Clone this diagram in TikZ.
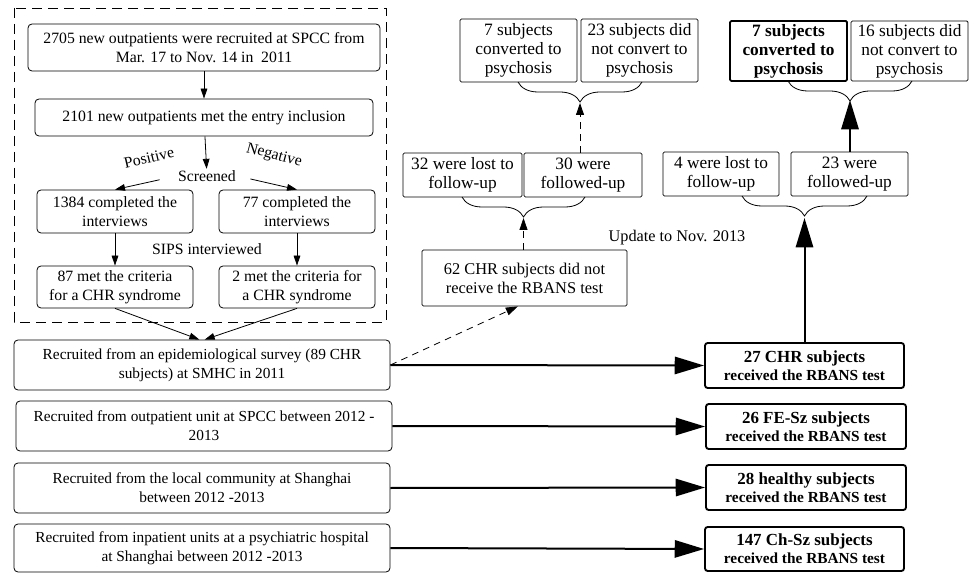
\documentclass[tikz,border=0pt]{standalone}
\usepackage{fontspec}
\setmainfont{Liberation Serif}
\usetikzlibrary{arrows.meta,decorations.pathreplacing}

\tikzset{
  lbox/.style={draw,rounded corners=3pt,line width=0.6pt,align=center,inner sep=0pt,font=\fontsize{11.8}{14.3}\selectfont},
  rbox/.style={lbox,font=\fontsize{11.5}{14}\selectfont},
  mbox/.style={draw,rounded corners=1pt,line width=0.6pt,align=center,inner sep=0pt,font=\fontsize{13}{14.3}\selectfont},
  tbox/.style={draw,rounded corners=2pt,line width=1.4pt,align=center,inner sep=0pt,font=\bfseries\fontsize{11.5}{13.3}\selectfont},
  lbl/.style={font=\fontsize{11.8}{14}\selectfont},
  arr/.style={-{Triangle[length=7.5pt,width=5pt]},line width=0.6pt},
  bigarr/.style={-{Triangle[length=22pt,width=13pt]},line width=1.5pt},
  dasharr/.style={-{Triangle[length=9pt,width=6pt]},dash pattern=on 5pt off 4pt,line width=0.6pt},
  curly/.style={decorate,decoration={brace,mirror,amplitude=15pt},line width=0.6pt}
}

\begin{document}
\begin{tikzpicture}[x=0.75pt,y=-0.75pt]
\useasboundingbox (0,0) rectangle (974,573);

% screening at SPCC
\draw[line width=0.7pt,dash pattern=on 7.5pt off 4.5pt] (14,8) rectangle (386,322);
\node (b2705) at (204,47.5) [lbox,minimum width=264pt,minimum height=35.25pt]{2705 new outpatients were recruited at SPCC from\\Mar. 17 to Nov. 14 in\ \ 2011};
\node (b2101) at (204,117.5) [lbox,minimum width=253.5pt,minimum height=27.75pt]{2101 new outpatients met the entry inclusion};
\node (scr) at (207,176) [lbl,inner sep=1pt]{Screened};
\node (pos) at (149,158) [lbl,inner sep=0pt,rotate=13]{Positive};
\node (neg) at (274,156) [lbl,inner sep=0pt,rotate=-15]{Negative};
\node (b1384) at (115,211.5) [lbox,minimum width=117pt,minimum height=32.25pt]{1384 completed the\\interviews};
\node (b77) at (297,211.5) [lbox,minimum width=117pt,minimum height=32.25pt]{77 completed the\\interviews};
\node (sips) at (207,249) [lbl]{SIPS interviewed};
\node (b87) at (115,287) [lbox,minimum width=117pt,minimum height=31.5pt]{87 met the criteria\\for a CHR syndrome};
\node (b2) at (297,287) [lbox,minimum width=117pt,minimum height=31.5pt]{2 met the criteria for\\a CHR syndrome};
\draw[arr] (b2705) -- (b2101);
\draw[arr] (b2101) -- (scr);
\draw[arr,shorten <=13pt] (scr.west) -- (b1384.north);
\draw[arr,shorten <=10pt] (scr.east) -- (b77.north);
\draw[arr] (b1384) -- (b87);
\draw[arr] (b77) -- (b2);

% recruiting sources
\node (rA) at (202,365) [rbox,minimum width=282pt,minimum height=37.5pt]{Recruited from an epidemiological survey (89 CHR\\subjects) at SMHC in 2011};
\node (rB) at (204,426) [rbox,minimum width=282pt,minimum height=37.5pt]{Recruited from outpatient unit at SPCC between 2012 -\\2013};
\node (rC) at (202,488) [rbox,minimum width=282pt,minimum height=37.5pt]{Recruited from the local community at Shanghai\\between 2012 -2013};
\node (rD) at (202,548) [rbox,minimum width=282pt,minimum height=36pt]{Recruited from inpatient units at a psychiatric hospital\\at Shanghai between 2012 -2013};
\draw[arr] (b87.south) -- ([xshift=-2pt]rA.north);
\draw[arr] (b2.south) -- ([xshift=2pt]rA.north);

% subjects who received the RBANS test
\node (s27) at (804.5,365.5) [tbox,minimum width=149.25pt,minimum height=33.75pt]{{\fontsize{12.7}{13.3}\selectfont 27 CHR subjects}\\received the RBANS test};
\node (s26) at (806,426.5) [tbox,minimum width=150pt,minimum height=33.75pt]{{\fontsize{12.7}{13.3}\selectfont 26 FE-Sz subjects}\\received the RBANS test};
\node (s28) at (806,487.5) [tbox,minimum width=150pt,minimum height=33.75pt]{{\fontsize{12.7}{13.3}\selectfont 28 healthy subjects}\\received the RBANS test};
\node (s147) at (804.5,549) [tbox,minimum width=149.25pt,minimum height=33pt]{{\fontsize{12.7}{13.3}\selectfont 147 Ch-Sz subjects}\\received the RBANS test};
\draw[bigarr] (rA.east) -- (s27.west);
\draw[bigarr] (rB.east) -- (s26.west);
\draw[bigarr] (rC.east) -- (s28.west);
\draw[bigarr] (rD.east) -- (s147.west);

% follow-up without RBANS
\node (m62) at (524.5,278) [mbox,minimum width=153.75pt,minimum height=42pt,font=\fontsize{12.3}{14.3}\selectfont]{62 CHR subjects did not\\receive the RBANS test};
\node (m32) at (462.5,175) [mbox,minimum width=89.25pt,minimum height=33pt]{32 were lost to\\follow-up};
\node (m30) at (583,175) [mbox,minimum width=88.5pt,minimum height=33pt]{30 were\\followed-up};
\node (m7) at (518.5,50.5) [mbox,minimum width=87.75pt,minimum height=47.25pt]{7 subjects\\converted to\\psychosis};
\node (m23) at (639.5,50.5) [mbox,minimum width=87.75pt,minimum height=47.25pt]{23 subjects did\\not convert to\\psychosis};
\draw[curly] (462,197) -- (585,197);
\coordinate (tipA) at (523.5,218);
\draw[curly] (518,82) -- (642,82);
\coordinate (tipB) at (580,103);
\draw[dasharr] (rA.east) -- ([xshift=-5pt]m62.south);
\draw[dasharr] (tipA |- m62.north) -- (tipA);
\draw[dasharr] (tipB |- m30.north) -- (tipB);

\node (upd) at (677,238) [lbl,font=\fontsize{12.2}{14}\selectfont]{Update to Nov. 2013};

% follow-up with RBANS
\node (r4) at (721,174) [mbox,minimum width=87pt,minimum height=33pt]{4 were lost to\\follow-up};
\node (r23) at (849.5,174) [mbox,minimum width=87.75pt,minimum height=33pt]{23 were\\followed-up};
\node (r7) at (788.5,51) [mbox,line width=1.4pt,minimum width=87.75pt,minimum height=45pt,font=\bfseries\fontsize{13}{14.3}\selectfont]{7 subjects\\converted to\\psychosis};
\node (r16) at (909.5,51) [mbox,minimum width=87.75pt,minimum height=45pt]{16 subjects did\\not convert to\\psychosis};
\draw[curly] (742,196) -- (867,196);
\coordinate (tipD) at (804.5,218);
\draw[curly] (788,81) -- (912,81);
\coordinate (tipC) at (850,100);
\draw[bigarr] (tipD |- s27.north) -- (tipD);
\draw[bigarr] (tipC |- r23.north) -- (tipC);
\end{tikzpicture}
\end{document}
